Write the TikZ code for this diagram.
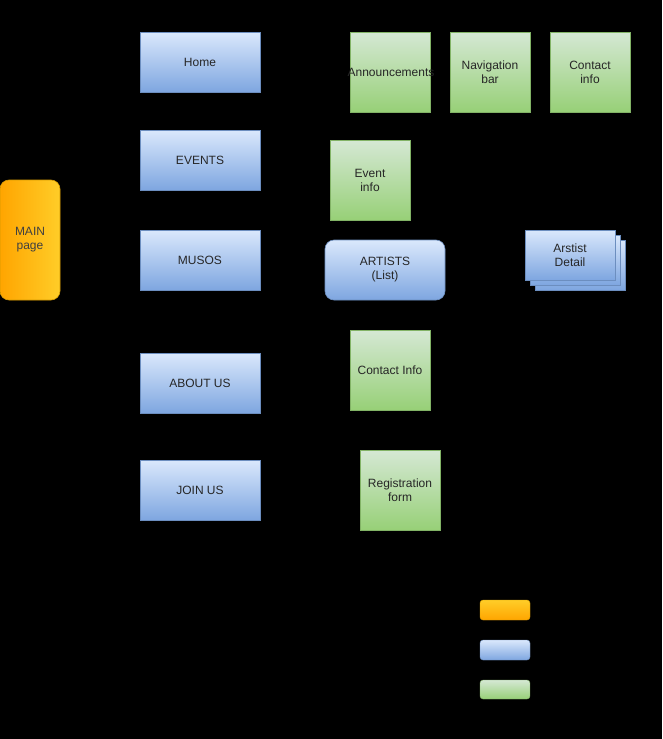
\documentclass[tikz,border=0pt]{standalone}
\usepackage{fontspec}
\setmainfont{Liberation Sans}
\usepackage{tikz}
\definecolor{blueTop}{HTML}{DAE8FC}
\definecolor{blueBot}{HTML}{7EA6E0}
\definecolor{blueLine}{HTML}{6C8EBF}
\definecolor{greenTop}{HTML}{D5E8D4}
\definecolor{greenBot}{HTML}{97D077}
\definecolor{greenLine}{HTML}{82B366}
\definecolor{orangeA}{HTML}{FFA500}
\definecolor{orangeB}{HTML}{FFCD28}
\definecolor{orangeLine}{HTML}{D79B00}
\tikzset{
	boxtext/.style={align=center, font=\fontsize{12}{14}\selectfont, text=black!85},
	pagebox/.style={boxtext, draw=blueLine, top color=blueTop, bottom color=blueBot, line width=0.6pt,
		minimum width=120pt, minimum height=60pt},
	partbox/.style={boxtext, draw=greenLine, top color=greenTop, bottom color=greenBot, line width=0.6pt,
		minimum width=80pt, minimum height=80pt, inner sep=0pt},
	mainbox/.style={boxtext, draw=orangeLine, left color=orangeA, right color=orangeB, rounded corners=9pt, line width=0.6pt,
		minimum width=60pt, minimum height=120pt, text=black!75},
	detailbox/.style={draw=blueLine, top color=blueTop, bottom color=blueBot, line width=0.6pt,
		minimum width=90pt, minimum height=50pt}
}
\begin{document}
\begin{tikzpicture}[x=1pt, y=-1pt]
			%%%%% BACKGROUND %%%%%
			\fill[black] (0, 0) rectangle (662, 739);
			\useasboundingbox (0, 0) rectangle (662, 739);
			
			\node[mainbox] (main) at (30, 240) {MAIN\\page};
			
			%%%%% PAGES %%%%%
			\node[pagebox] (home) at (200, 62) {Home};
			\node[pagebox] (events) at (200, 160) {EVENTS};
			\node[pagebox] (musos) at (200, 260) {MUSOS};
			\node[pagebox] (about) at (200, 383) {ABOUT US};
			\node[pagebox] (join) at (200, 490) {JOIN US};
			
			%%%%% PARTS %%%%%
			\node[partbox] (announce) at (390, 72) {};
			\node[boxtext, inner sep=0pt] (announcetext) at (391, 72) {Announcements};
			\node[partbox] (navbar) at (490, 72) {Navigation\\bar};
			\node[partbox] (contacttop) at (590, 72) {Contact\\info};
			\node[partbox] (eventinfo) at (370, 180) {Event\\info};
			\node[pagebox, rounded corners=9pt] (artists) at (385, 270) {ARTISTS\\(List)};
			
			\node[detailbox] (detailC) at (580, 265) {};
			\node[detailbox] (detailB) at (575, 260) {};
			\node[detailbox, boxtext] (detail) at (570, 255) {Arstist\\Detail};
			
			\node[partbox] (contactinfo) at (390, 370) {Contact Info};
			\node[partbox] (regform) at (400, 490) {Registration\\form};
			
			%%%%% LEGEND %%%%%
			\draw[draw=orangeLine, top color=orangeB, bottom color=orangeA, rounded corners=3pt] (480, 600) rectangle (530, 620);
			\draw[draw=blueLine, top color=blueTop, bottom color=blueBot, rounded corners=3pt] (480, 640) rectangle (530, 660);
			\draw[draw=greenLine, top color=greenTop, bottom color=greenBot, rounded corners=3pt] (480, 680) rectangle (530, 699);
			
			%%%%% END %%%%%
\end{tikzpicture}
\end{document}
